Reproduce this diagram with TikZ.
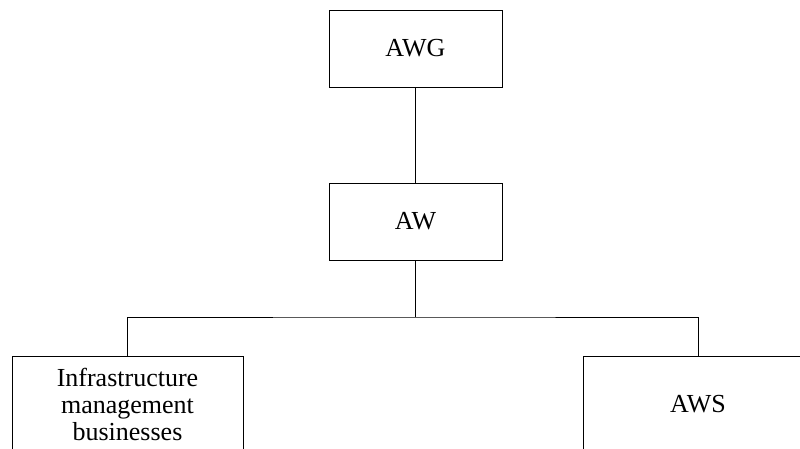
\documentclass[tikz,border=0pt]{standalone}
\usepackage{fontspec}
\setmainfont{Liberation Serif}
\begin{document}
\begin{tikzpicture}[x=1pt,y=-1pt,
  box/.style={draw,line width=1pt,rectangle,align=center,inner sep=0pt,
    font=\fontsize{26}{27}\selectfont},
  conn/.style={line width=1pt}]
\useasboundingbox (0,0) rectangle (800,448);
\clip (0,0) rectangle (800,448);
\node[box,minimum width=173pt,minimum height=77pt] (awg) at (415.5,48.5) {AWG};
\node[box,minimum width=173pt,minimum height=77pt] (aw) at (415.5,221.5) {AW};
\node[box,minimum width=231pt,minimum height=96pt] (imb) at (127.5,404) {Infrastructure\\management\\businesses};
\node[box,minimum width=230pt,minimum height=96pt] (aws) at (698,404) {AWS};
\coordinate (j) at (415.5,317);
\draw[conn] (awg) -- (aw);
\draw[conn] (aw) -- (j);
\draw[conn] (imb.north) |- (j) -| (aws.north);
\end{tikzpicture}
\end{document}
